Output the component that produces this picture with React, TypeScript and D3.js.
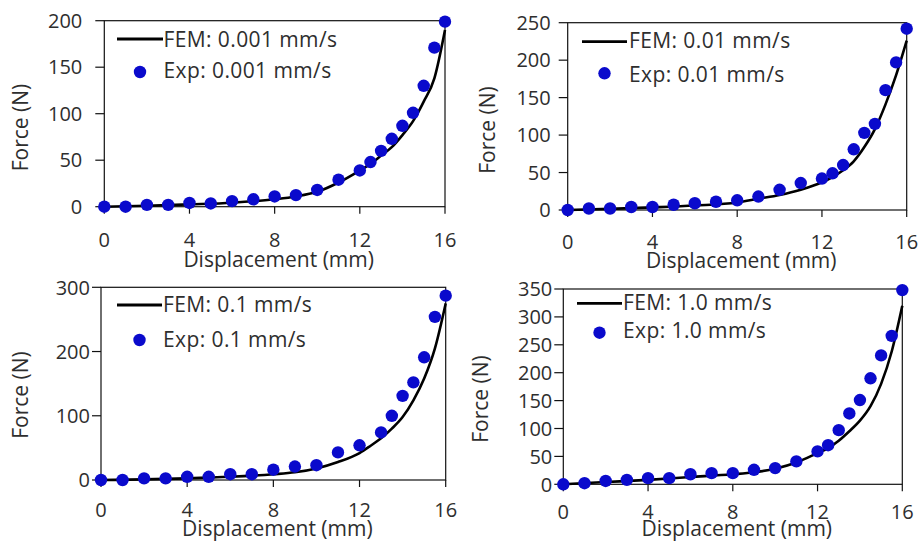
import React from "react";
import * as d3 from "d3";

// ---------- data ----------
const expX = [0, 1, 2, 3, 4, 5, 6, 7, 8, 9, 10, 11, 12, 12.5, 13, 13.5, 14, 14.5, 15, 15.5, 16];
const femX = [0, 2, 4, 6, 8, 9, 10, 11, 12, 12.5, 13, 13.5, 14, 14.5, 15, 15.5, 16];

const exp001 = [0, 0, 2, 2, 4, 3.5, 6, 8, 11, 12.5, 18, 29, 39, 48, 60, 73, 87, 101, 130, 171, 199];
const fem001 = [0, 1, 2.5, 4.3, 8, 11, 16, 26, 39, 46, 55, 64, 77, 92, 113, 138, 190];

const exp01 = [0, 2, 2, 4, 4, 7, 9, 11, 13, 18, 27, 36, 42, 49, 60, 81, 103, 115, 160, 197, 242];
const fem01 = [0, 1.5, 3.5, 6, 10, 15, 20, 27, 37, 44, 53, 65, 84, 108, 141, 180, 226];

const exp1X = [0, 1, 2, 3, 4, 5, 6, 7, 8, 9, 10, 11, 12, 13, 13.5, 14, 14.5, 15, 15.5, 16];
const exp1 = [0, 0, 2.6, 2.6, 5, 5, 9, 9, 16, 21, 23, 43, 54, 74, 100, 131, 152, 191, 254, 287];
const fem1 = [0, 1, 2.6, 5, 9, 12, 18, 28, 42, 53, 65, 80, 98, 124, 158, 205, 275];

const exp10 = [0, 2, 6, 8, 11, 11, 18, 20, 20, 26, 29, 41, 59, 70, 97, 127, 151, 190, 231, 266, 348];
const fem10 = [0, 4, 8, 13, 18, 21.5, 28, 39, 56, 65, 78, 95, 114, 140, 180, 238, 320];

const xTicks = [0, 4, 8, 12, 16];
const yTicks001 = [0, 50, 100, 150, 200];
const yTicks01 = [0, 50, 100, 150, 200, 250];
const yTicks1 = [0, 100, 200, 300];
const yTicks10 = [0, 50, 100, 150, 200, 250, 300, 350];

const femLabels = ["FEM: 0.001 mm/s", "FEM: 0.01 mm/s", "FEM: 0.1 mm/s", "FEM: 1.0 mm/s"];
const expLabels = ["Exp: 0.001 mm/s", "Exp: 0.01 mm/s", "Exp: 0.1 mm/s", "Exp: 1.0 mm/s"];

// ---------- layout ----------
const FONT = "'Open Sans', sans-serif";
const TEXT = "#2e2e2e";
const BLUE = "#0a0acc";

interface PanelProps {
  left: number; right: number; top: number; bottom: number;
  yMax: number; yTicks: number[];
  eX: number[]; eY: number[]; fY: number[];
  femLabel: string; expLabel: string;
  lineX1: number; lineX2: number; textX: number; lineY: number; dotY: number;
  femBase: number; expBase: number;
  yLabelGap: number; yTitleX: number; yTitleY: number;
  xTickBase: number; xTitleBase: number;
}

function Panel(p: PanelProps) {
  const x = d3.scaleLinear().domain([0, 16]).range([p.left, p.right]);
  const y = d3.scaleLinear().domain([0, p.yMax]).range([p.bottom, p.top]);
  const line = d3
    .line<number>()
    .x((_, i) => x(femX[i]))
    .y((d) => y(d))
    .curve(d3.curveMonotoneX);
  const midX = (p.left + p.right) / 2;
  return (
    <g fontFamily={FONT} fill={TEXT}>
      <rect x={p.left} y={p.top} width={p.right - p.left} height={p.bottom - p.top} fill="none" stroke="#111" strokeWidth={1.2} />
      {p.yTicks.map((t) => (
        <g key={"y" + t}>
          <line x1={p.left - 9} x2={p.left} y1={y(t)} y2={y(t)} stroke="#111" strokeWidth={1.2} />
          <text x={p.left - p.yLabelGap} y={y(t)} dy="0.36em" textAnchor="end" fontSize={20}>{t}</text>
        </g>
      ))}
      {xTicks.map((t) => (
        <g key={"x" + t}>
          <line x1={x(t)} x2={x(t)} y1={p.bottom} y2={p.bottom + 7} stroke="#111" strokeWidth={1.2} />
          <text x={x(t)} y={p.xTickBase} textAnchor="middle" fontSize={20}>{t}</text>
        </g>
      ))}
      <text x={midX + 4} y={p.xTitleBase} textAnchor="middle" fontSize={21}>Displacement (mm)</text>
      <text transform={`translate(${p.yTitleX},${p.yTitleY}) rotate(-90)`} dy="0.36em" textAnchor="middle" fontSize={21}>Force (N)</text>
      <path d={line(p.fY) || ""} fill="none" stroke="#000" strokeWidth={2.6} />
      {p.eY.map((v, i) => (
        <circle key={i} cx={x(p.eX[i])} cy={y(v)} r={6.2} fill={BLUE} />
      ))}
      <line x1={p.lineX1} x2={p.lineX2} y1={p.lineY} y2={p.lineY} stroke="#000" strokeWidth={2.8} />
      <text x={p.textX} y={p.femBase} fontSize={21} letterSpacing={0.4}>{p.femLabel}</text>
      <circle cx={(p.lineX1 + p.lineX2) / 2} cy={p.dotY} r={6.2} fill={BLUE} />
      <text x={p.textX} y={p.expBase} fontSize={21} letterSpacing={0.4}>{p.expLabel}</text>
    </g>
  );
}

export default function App() {
  return (
    <svg width={921} height={551} style={{ position: "absolute", left: 0, top: 0, background: "#fff" }}>
      <rect width={921} height={551} fill="#fff" />
      <Panel left={104.3} right={445} top={20.7} bottom={206.7} yMax={200} yTicks={yTicks001}
        eX={expX} eY={exp001} fY={fem001} femLabel={femLabels[0]} expLabel={expLabels[0]}
        lineX1={117} lineX2={163} textX={163.5} lineY={39} dotY={72} femBase={46.7} expBase={78.3}
        yLabelGap={22} yTitleX={20} yTitleY={127.5} xTickBase={247} xTitleBase={267} />
      <Panel left={567.7} right={906.7} top={22.7} bottom={210} yMax={250} yTicks={yTicks01}
        eX={expX} eY={exp01} fY={fem01} femLabel={femLabels[1]} expLabel={expLabels[1]}
        lineX1={582} lineX2={627} textX={629} lineY={41.7} dotY={73.3} femBase={48.3} expBase={81.7}
        yLabelGap={17} yTitleX={487} yTitleY={130} xTickBase={248.5} xTitleBase={268} />
      <Panel left={101} right={445.7} top={287.3} bottom={480} yMax={300} yTicks={yTicks1}
        eX={exp1X} eY={exp1} fY={fem1} femLabel={femLabels[2]} expLabel={expLabels[2]}
        lineX1={117} lineX2={162} textX={163} lineY={305} dotY={340} femBase={311.7} expBase={346.7}
        yLabelGap={11} yTitleX={20} yTitleY={395} xTickBase={517} xTitleBase={536} />
      <Panel left={563.3} right={902.3} top={289} bottom={484.3} yMax={350} yTicks={yTicks10}
        eX={expX} eY={exp10} fY={fem10} femLabel={femLabels[3]} expLabel={expLabels[3]}
        lineX1={577} lineX2={622} textX={623} lineY={303.3} dotY={332.7} femBase={310} expBase={338.3}
        yLabelGap={11} yTitleX={480} yTitleY={399} xTickBase={519} xTitleBase={536} />
    </svg>
  );
}
